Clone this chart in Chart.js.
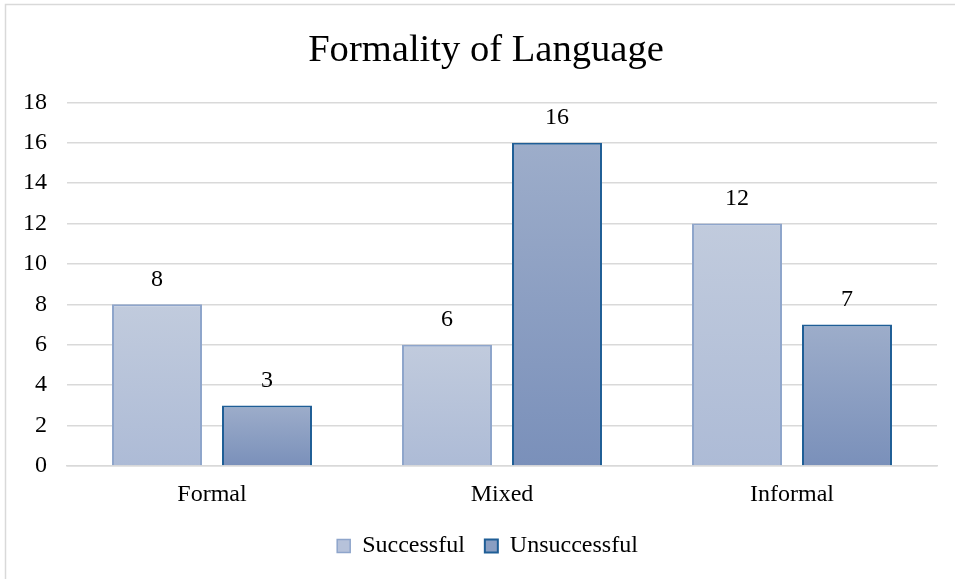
<!DOCTYPE html>
<html>
<head>
<meta charset="utf-8">
<script src="https://cdn.jsdelivr.net/npm/chart.js@4/dist/chart.umd.min.js"></script>
<style>
  html, body { margin: 0; padding: 0; background: #ffffff; }
  #wrap { position: relative; width: 955px; height: 579px; }
  canvas { display: block; }
</style>
</head>
<body>
<div id="wrap"><canvas id="c" width="955" height="579"></canvas></div>
<script>
const categories = ["Formal", "Mixed", "Informal"];
const successful = [8, 6, 12];
const unsuccessful = [3, 16, 7];
const seriesNames = ["Successful", "Unsuccessful"];
const yTicks = [0, 2, 4, 6, 8, 10, 12, 14, 16, 18];

const SERIF = "'Liberation Serif', 'Times New Roman', serif";

function barGradient(top, bottom) {
  return function (ctx) {
    const chart = ctx.chart;
    const y = chart.scales && chart.scales.y;
    if (!chart.chartArea || !y || ctx.type !== 'data') return top;
    const v = ctx.raw;
    const py = y.getPixelForValue(v);
    const pb = y.getPixelForValue(0);
    if (!isFinite(py) || !isFinite(pb) || py === pb) return top;
    const g = chart.ctx.createLinearGradient(0, py, 0, pb);
    g.addColorStop(0, top);
    g.addColorStop(1, bottom);
    return g;
  };
}

const frame = {
  id: 'frame',
  beforeDraw(chart) {
    const c = chart.ctx;
    c.save();
    c.fillStyle = '#ffffff';
    c.fillRect(0, 0, chart.width, chart.height);
    c.strokeStyle = '#d9d9d9';
    c.lineWidth = 1.5;
    c.strokeRect(5.5, 4.5, 1000, 700);
    c.restore();
  }
};

// The original chart frame is wider than the window, so title and legend are centred a bit right.
const shiftBlocks = {
  id: 'shiftBlocks',
  afterLayout(chart) {
    if (chart.titleBlock) chart.titleBlock.left += 35;
    if (chart.legend) chart.legend.left += 38;
  }
};

const valueLabels = {
  id: 'valueLabels',
  afterDatasetsDraw(chart) {
    const c = chart.ctx;
    c.save();
    c.font = "24px " + SERIF;
    c.fillStyle = '#000000';
    c.textAlign = 'center';
    c.textBaseline = 'middle';
    chart.data.datasets.forEach((ds, i) => {
      const meta = chart.getDatasetMeta(i);
      meta.data.forEach((bar, j) => {
        c.fillText(String(ds.data[j]), bar.x, bar.y - 25);
      });
    });
    c.restore();
  }
};

new Chart(document.getElementById('c'), {
  type: 'bar',
  data: {
    labels: categories,
    datasets: [
      {
        label: seriesNames[0],
        data: successful,
        backgroundColor: barGradient('#c1cbdd', '#adbbd6'),
        borderColor: '#8ea5cb',
        borderWidth: 2,
        categoryPercentage: 0.7586,
        barPercentage: 0.818
      },
      {
        label: seriesNames[1],
        data: unsuccessful,
        backgroundColor: barGradient('#9dadca', '#7a90ba'),
        borderColor: '#1f5e96',
        borderWidth: 2,
        categoryPercentage: 0.7586,
        barPercentage: 0.818
      }
    ]
  },
  options: {
    responsive: false,
    animation: false,
    devicePixelRatio: 1,
    layout: { padding: { left: 0, right: 18, top: 0, bottom: 11 } },
    plugins: {
      title: {
        display: true,
        text: 'Formality of Language',
        color: '#000000',
        font: { family: SERIF, size: 38.6, weight: 'normal' },
        padding: { top: 28, bottom: 28 }
      },
      legend: {
        display: true,
        position: 'bottom',
        labels: {
          color: '#000000',
          font: { family: SERIF, size: 24 },
          boxWidth: 13,
          boxHeight: 13,
          padding: 20,
          generateLabels() {
            return [
              { text: seriesNames[0], fillStyle: '#b6c2da', strokeStyle: '#8ea5cb', lineWidth: 1.5, datasetIndex: 0 },
              { text: seriesNames[1], fillStyle: '#8a9ec2', strokeStyle: '#1f5e96', lineWidth: 2, datasetIndex: 1 }
            ];
          }
        }
      },
      tooltip: { enabled: false }
    },
    scales: {
      x: {
        afterFit(scale) { scale.height = 48; },
        grid: { display: false, drawTicks: false },
        border: { display: true, color: '#d9d9d9', width: 1.5 },
        ticks: { color: '#000000', font: { family: SERIF, size: 24 }, padding: 14 }
      },
      y: {
        min: 0,
        max: 18,
        afterBuildTicks(scale) { scale.ticks = yTicks.map(v => ({ value: v })); },
        afterFit(scale) { scale.width = 67; },
        grid: { color: '#d9d9d9', lineWidth: 1.5, drawTicks: false },
        border: { display: false },
        ticks: { color: '#000000', font: { family: SERIF, size: 24 }, padding: 20 }
      }
    }
  },
  plugins: [frame, shiftBlocks, valueLabels]
});
</script>
</body>
</html>
